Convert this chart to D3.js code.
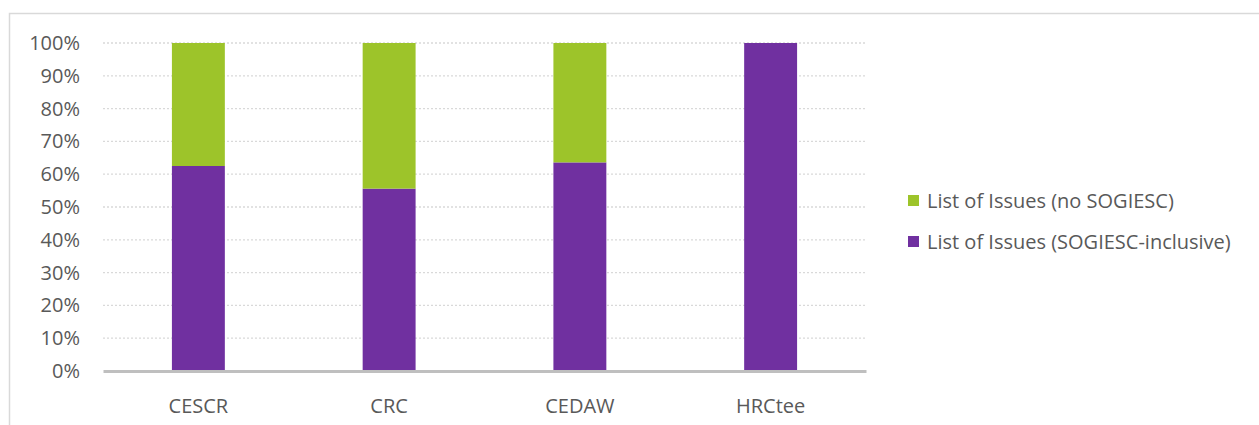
<!DOCTYPE html>
<html>
<head>
<meta charset="utf-8">
<script src="https://cdn.jsdelivr.net/npm/d3@7"></script>
<style>
  body { margin: 0; background: #fff; }
  svg text { font-family: "Open Sans", sans-serif; fill: #595959; }
</style>
</head>
<body>
<svg id="svg1" width="1259" height="425"></svg>
<script>
// chart data
const committees = ["CESCR", "CRC", "CEDAW", "HRCtee"];
const inclusive  = [0.625, 0.556, 0.636, 1.0];   // SOGIESC-inclusive share
const noSogiesc  = [0.375, 0.444, 0.364, 0.0];   // rest of the issues
const yTicks     = [0, 0.1, 0.2, 0.3, 0.4, 0.5, 0.6, 0.7, 0.8, 0.9, 1.0];
const seriesNames = ["List of Issues (no SOGIESC)", "List of Issues (SOGIESC-inclusive)"];
const colours     = ["#9dc42a", "#7030a0"];

const svg = d3.select("#svg1");

// outer frame like the exported chart area
svg.append("rect")
    .attr("x", 9.5).attr("y", 13.5)
    .attr("width", 1300).attr("height", 500)
    .attr("fill", "none")
    .attr("stroke", "#d9d9d9")
    .attr("stroke-width", 1.5);

const margin = {top: 43, left: 103},
      width  = 763,
      height = 328,
      x = d3.scaleBand().domain(committees).range([0, width]).paddingInner(0.7225).paddingOuter(0.36125),
      y = d3.scaleLinear().domain([0, 1]).range([height, 0]),
      g = svg.append("g").attr("transform", `translate(${margin.left},${margin.top})`);

// dotted gridlines
g.selectAll(".grid")
  .data(yTicks.slice(1))
  .enter().append("line")
    .attr("class", "grid")
    .attr("x1", 0).attr("x2", width)
    .attr("y1", d => y(d)).attr("y2", d => y(d))
    .attr("stroke", "#d9d9d9")
    .attr("stroke-width", 1.3)
    .attr("stroke-dasharray", "2,2");

// y axis labels
const yAxis = g.append("g")
    .attr("transform", "translate(-23,0)")
    .call(d3.axisLeft(y).tickValues(yTicks).tickFormat(d3.format(".0%")).tickSize(0).tickPadding(0));
yAxis.select(".domain").remove();
yAxis.selectAll("text").style("font-size", "20px").attr("fill", "#595959");

// stacked bars
const rows = committees.map((c, i) => ({c: c, a: inclusive[i], b: noSogiesc[i]}));

g.selectAll(".bar-a")
  .data(rows)
  .enter().append("rect")
    .attr("class", "bar-a")
    .attr("x", d => x(d.c))
    .attr("y", d => y(d.a))
    .attr("width", x.bandwidth())
    .attr("height", d => height - y(d.a))
    .attr("fill", colours[1]);

g.selectAll(".bar-b")
  .data(rows.filter(d => d.b > 0))
  .enter().append("rect")
    .attr("class", "bar-b")
    .attr("x", d => x(d.c))
    .attr("y", d => y(d.a + d.b))
    .attr("width", x.bandwidth())
    .attr("height", d => y(d.a) - y(d.a + d.b))
    .attr("fill", colours[0]);

// x axis
const xAxis = g.append("g")
    .attr("transform", `translate(0,${height})`)
    .call(d3.axisBottom(x).tickSize(0).tickPadding(28));
xAxis.select(".domain").attr("stroke", "#bfbfbf").attr("stroke-width", 3);
xAxis.selectAll("text").style("font-size", "20px").attr("fill", "#595959");

// legend
const legend = svg.append("g").attr("transform", "translate(908,195)");
seriesNames.forEach((name, i) => {
  legend.append("rect")
    .attr("x", 0).attr("y", i * 41)
    .attr("width", 11).attr("height", 11)
    .attr("fill", colours[i]);
  legend.append("text")
    .attr("x", 19).attr("y", i * 41 + 13)
    .style("font-size", "20px")
    .text(name);
});
</script>
</body>
</html>
